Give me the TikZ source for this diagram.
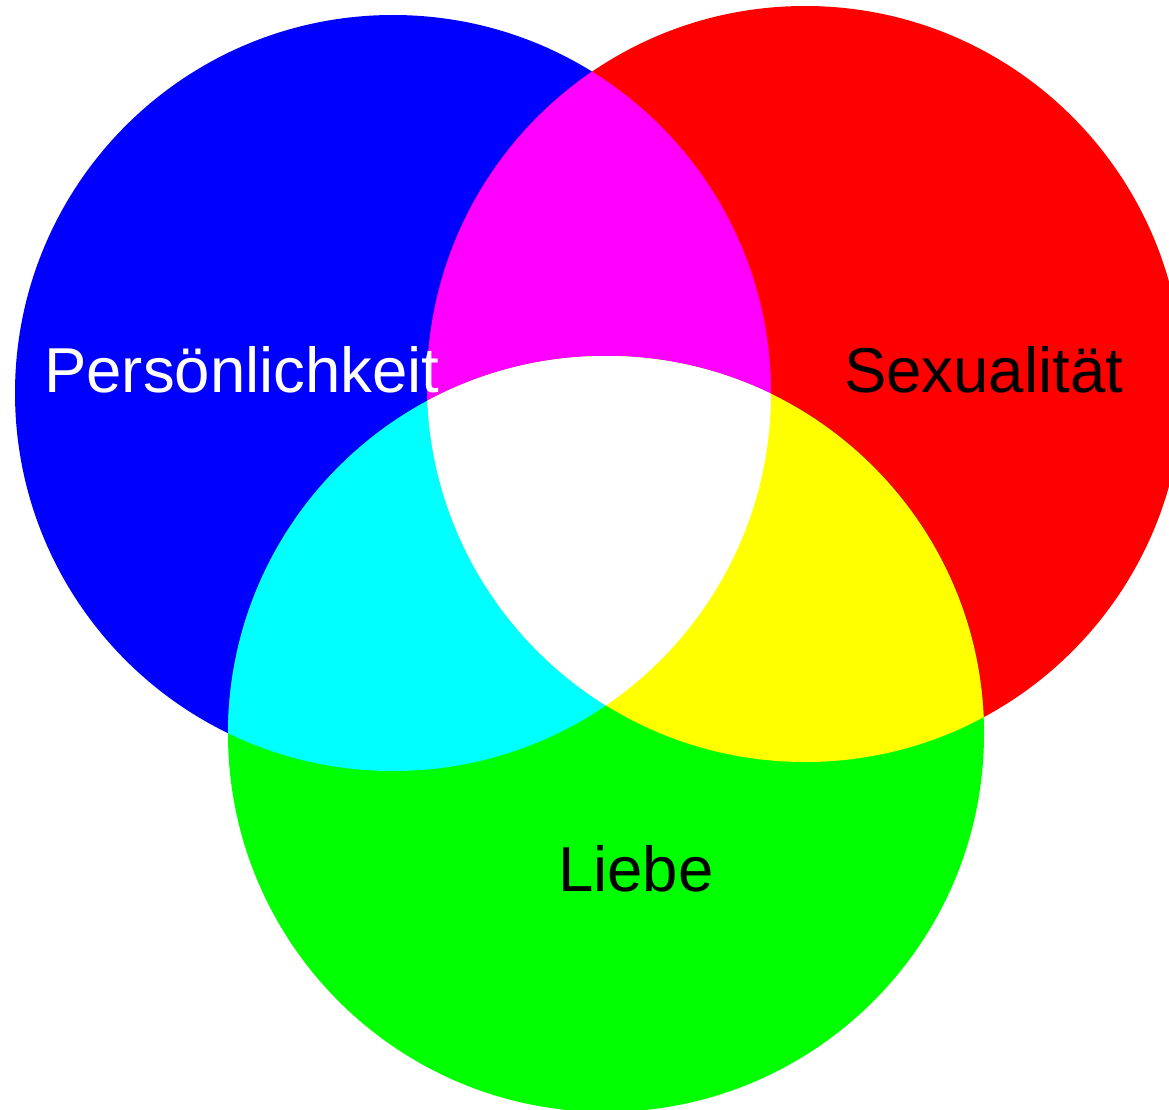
\documentclass[tikz,border=0pt]{standalone}
\usepackage{fontspec}
\setmainfont{Liberation Sans}
\usetikzlibrary{positioning}
\definecolor{pureblue}{RGB}{0,0,255}
\definecolor{purered}{RGB}{255,0,0}
\definecolor{puregreen}{RGB}{0,255,0}
\definecolor{puremagenta}{RGB}{255,0,255}
\definecolor{purecyan}{RGB}{0,255,255}
\definecolor{pureyellow}{RGB}{255,255,0}

\begin{document}
\begin{tikzpicture}[
	x=1pt, y=-1pt,
	every node/.style={inner sep=0pt, font=\fontsize{63.5}{70}\selectfont},
	label_text/.style={anchor=base west}
	]
	
	\useasboundingbox (0,0) rectangle (1169,1110);
	
	% --- centres of the three circles ---
	\coordinate (P) at (393,393);
	\coordinate (S) at (805,384);
	\coordinate (L) at (606,734);
	\def\rad{378}
	
	\fill[pureblue] (P) circle (\rad);
	\fill[purered] (S) circle (\rad);
	\fill[puregreen] (L) circle (\rad);
	
	% --- overlaps ---
	\begin{scope}
		\clip (P) circle (\rad);
		\fill[puremagenta] (S) circle (\rad);
		\fill[purecyan] (L) circle (\rad);
	\end{scope}
	\begin{scope}
		\clip (S) circle (\rad);
		\fill[pureyellow] (L) circle (\rad);
	\end{scope}
	\begin{scope}
		\clip (P) circle (\rad);
		\clip (S) circle (\rad);
		\fill[white] (L) circle (\rad);
	\end{scope}
	
	% --- labels ---
	\node[label_text, text=white] (pers) at (44,392) {Persönlichkeit};
	\node[label_text] (sex) at (844,392) {Sexualität};
	\node[label_text] (liebe) at (558,891) {Liebe};
	
\end{tikzpicture}
\end{document}
